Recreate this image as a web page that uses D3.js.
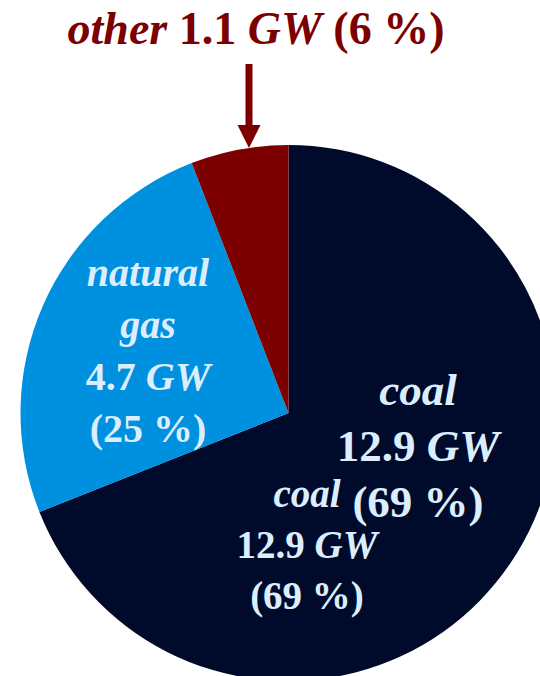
<!DOCTYPE html>
<html>
<head>
<meta charset="utf-8">
<script src="https://cdn.jsdelivr.net/npm/d3@7"></script>
<style>
  html, body { margin: 0; padding: 0; background: #ffffff; }
  svg { display: block; }
</style>
</head>
<body>
<svg id="chart" width="540" height="676"></svg>
<script>
// Installed capacity by source
const categories = ["coal", "natural gas", "other"];
const capacityGW = [12.9, 4.7, 1.1];
const sharePct = [69, 25, 6];
const sliceColors = ["#000b2b", "#0090e0", "#7d0000"];

const W = 540, H = 676;
const cx = 288.5, cy = 413, R = 268;
const labelColor = "#dceefd";
const serif = "'Liberation Serif'";

const svg = d3.select("#chart");
const g = svg.append("g").attr("transform", `translate(${cx},${cy})`);

const pie = d3.pie().sort(null).value(d => d.value).startAngle(0).endAngle(2 * Math.PI);
const arcs = pie(categories.map((c, i) => ({ name: c, value: capacityGW[i], pct: sharePct[i] })));
const arc = d3.arc().innerRadius(0).outerRadius(R);

g.selectAll("path.slice")
  .data(arcs)
  .join("path")
  .attr("class", "slice")
  .attr("d", arc)
  .attr("fill", (d, i) => sliceColors[i]);

// Builds a multi-line label where each line is a list of [text, italic] pieces
function label(x, y, lines, size, lineGap, color) {
  const t = svg.append("text")
    .attr("text-anchor", "middle")
    .style("font-family", serif)
    .style("font-weight", "bold")
    .style("font-size", size + "px")
    .attr("fill", color);
  lines.forEach((parts, li) => {
    parts.forEach((p, pi) => {
      const ts = t.append("tspan").text(p[0]).style("font-style", p[1] ? "italic" : "normal");
      if (pi === 0) ts.attr("x", x).attr("y", y + li * lineGap);
    });
  });
  return t;
}

const fmt = v => d3.format(".1f")(v);

// coal (large)
label(418, 405, [
  [["coal", true]],
  [[fmt(capacityGW[0]) + " ", false], ["GW", true]],
  [["(" + sharePct[0] + " %)", false]]
], 45, 56, labelColor);

// coal (small)
label(307, 507, [
  [["coal", true]],
  [[fmt(capacityGW[0]) + " ", false], ["GW", true]],
  [["(" + sharePct[0] + " %)", false]]
], 39, 51, labelColor);

// natural gas
label(148, 286, [
  [["natural", true]],
  [["gas", true]],
  [[fmt(capacityGW[1]) + " ", false], ["GW", true]],
  [["(" + sharePct[1] + " %)", false]]
], 40, 52, labelColor);

// other, above the pie
const otherColor = sliceColors[2];
label(256, 44, [
  [["other", true], [" " + fmt(capacityGW[2]) + " ", false], ["GW", true], [" (" + sharePct[2] + " %)", false]]
], 46, 0, otherColor);

// arrow pointing down onto the "other" slice
const ax = 249;
const tipY = cy - Math.sqrt(R * R - (ax - cx) * (ax - cx));
svg.append("rect")
  .attr("x", ax - 3.5).attr("y", 64)
  .attr("width", 7).attr("height", tipY - 23 - 64 + 1)
  .attr("fill", otherColor);
svg.append("path")
  .attr("d", `M${ax - 11.5},${tipY - 23} L${ax + 11.5},${tipY - 23} L${ax},${tipY} Z`)
  .attr("fill", otherColor);
</script>
</body>
</html>
